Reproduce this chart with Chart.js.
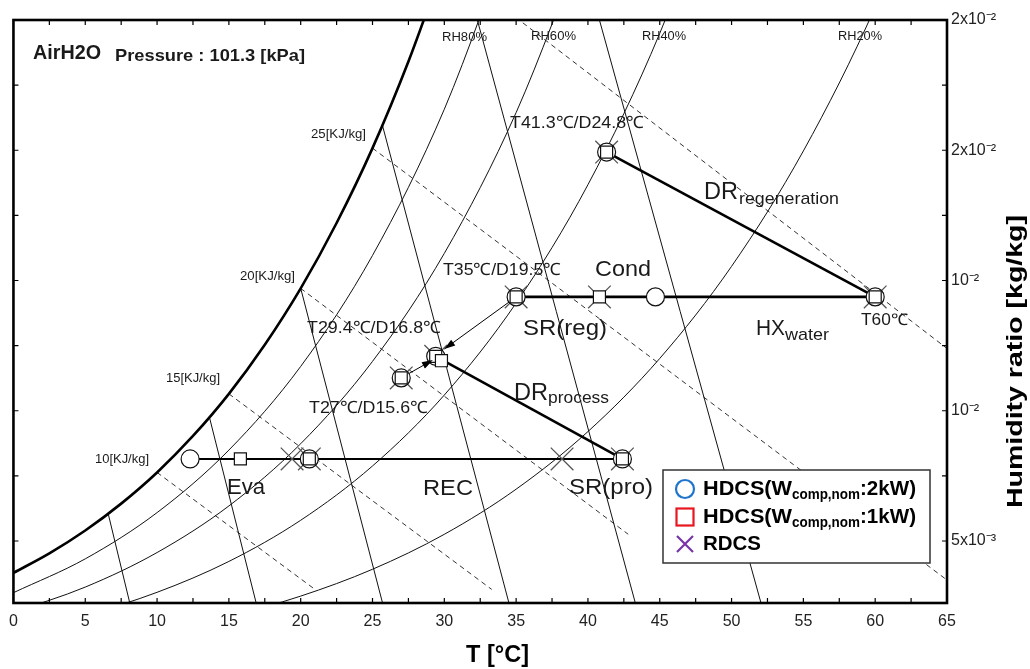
<!DOCTYPE html>
<html>
<head>
<meta charset="utf-8">
<script src="https://cdn.jsdelivr.net/npm/chart.js@4.4.0/dist/chart.umd.min.js"></script>
<style>
  html, body { margin: 0; padding: 0; background: #fff; }
</style>
</head>
<body>
<canvas id="psy" width="1030" height="669"></canvas>
<script>
// humidity ratio range on the right axis [kg/kg]
const wMin = 0.00262;
const wMax = 0.025;

// saturation curve
const satT = [0, 2.5, 5, 7.5, 10, 12.5, 15, 17.5, 20, 22.5, 25, 27.5, 30];
const satW = [0.003775, 0.004525, 0.005403, 0.006435, 0.007631, 0.009032, 0.010649,
              0.012532, 0.014696, 0.017207, 0.020081, 0.023405, 0.027205];

// relative humidity curves
const rh80T = [0, 5, 10, 15, 20, 25, 30, 35];
const rh80W = [0.003016, 0.004315, 0.006090, 0.008490, 0.011702, 0.015962, 0.021575, 0.028929];
const rh60T = [0, 5, 10, 15, 20, 25, 30, 35, 40];
const rh60W = [0.002260, 0.003231, 0.004557, 0.006346, 0.008735, 0.011895, 0.016042, 0.021447, 0.028444];
const rh40T = [0, 5, 10, 15, 20, 25, 30, 35, 40, 45, 50];
const rh40W = [0.001505, 0.002150, 0.003030, 0.004216, 0.005796, 0.007880, 0.010603,
               0.014136, 0.018678, 0.024488, 0.031885];
const rh20T = [10, 15, 20, 25, 30, 35, 40, 45, 50, 55, 60, 65];
const rh20W = [0.001511, 0.002101, 0.002885, 0.003915, 0.005257, 0.006989, 0.009201,
               0.012008, 0.015544, 0.019974, 0.025492, 0.032328];

// specific volume lines (upper end, lower end)
const volT1 = [6.6, 13.65, 20.0, 25.7, 32.3, 40.8];
const volW1 = [0.00604, 0.00974, 0.0147, 0.02094, 0.025, 0.025];
const volT2 = [8.1, 16.9, 25.7, 34.5, 43.3, 52.05];
const volW2 = [0.00262, 0.00262, 0.00262, 0.00262, 0.00262, 0.00262];

// dashed lines labelled [KJ/kg] (start on saturation, end)
const wbT1 = [10, 15, 20, 25, 30];
const wbW1 = [0.007631, 0.010649, 0.014696, 0.020081, 0.027205];
const wbT2 = [21, 33.3, 42.8, 65, 65];
const wbW2 = [0.003139, 0.003141, 0.005260, 0.003502, 0.012391];

// state points
const wEva = 0.00815;
const hdcs2T = [12.3, 20.6, 42.4, 27, 29.4, 35, 41.3, 44.7, 60];
const hdcs2W = [wEva, wEva, wEva, 0.01126, 0.01209, 0.01437, 0.01993, 0.01437, 0.01437];
const hdcs1T = [15.8, 20.6, 42.4, 27, 29.4, 29.8, 35, 41.3, 40.8, 60];
const hdcs1W = [wEva, wEva, wEva, 0.01126, 0.01209, 0.01192, 0.01437, 0.01993, 0.01437, 0.01437];
const rdcsT = [19.4, 20.6, 38.2, 42.4, 27, 29.4, 35, 41.3, 40.8, 60];
const rdcsW = [wEva, wEva, wEva, wEva, 0.01126, 0.01209, 0.01437, 0.01993, 0.01437, 0.01437];

// process lines
const evaT = [12.3, 42.4];
const evaW = [wEva, wEva];
const drProT = [29.4, 42.4];
const drProW = [0.01209, wEva];
const srRegT = [35, 60];
const srRegW = [0.01437, 0.01437];
const drRegT = [41.3, 60];
const drRegW = [0.01993, 0.01437];
const arrowAT = [27, 29.2];
const arrowAW = [0.01126, 0.01195];
const arrowBT = [35, 30.0];
const arrowBW = [0.01437, 0.01237];

// tick labels
const xTickVals = [0, 5, 10, 15, 20, 25, 30, 35, 40, 45, 50, 55, 60, 65];
const yTickVals = [0.005, 0.01, 0.015, 0.02, 0.025];
const yTickText = ['5x10\u207B\u00B3', '10\u207B\u00B2', '10\u207B\u00B2', '2x10\u207B\u00B2', '2x10\u207B\u00B2'];

const FONT = '"Liberation Sans", Arial, sans-serif';

function pts(ts, ws) {
  return ts.map((t, i) => ({ x: t, y: ws[i] }));
}

function curve(ts, ws, extra) {
  return Object.assign({
    data: pts(ts, ws), showLine: true, pointRadius: 0, borderColor: '#111',
    borderWidth: 1, fill: false, order: 4
  }, extra);
}

const datasets = [];
// markers (lower order = drawn on top)
datasets.push({ label: 'HDCS 1kW', data: pts(hdcs1T, hdcs1W), pointStyle: 'rect', pointRadius: 8.5,
  borderColor: '#111', backgroundColor: '#fff', borderWidth: 1.2, order: 0 });
datasets.push({ label: 'HDCS 2kW', data: pts(hdcs2T, hdcs2W), pointStyle: 'circle', pointRadius: 9,
  borderColor: '#111', backgroundColor: '#fff', borderWidth: 1.2, order: 1 });
datasets.push({ label: 'RDCS', data: pts(rdcsT, rdcsW), pointStyle: 'crossRot', pointRadius: 16,
  borderColor: '#555', borderWidth: 1.3, order: 2 });

// process lines
datasets.push(curve(evaT, evaW, { borderWidth: 2, borderColor: '#000', order: 3 }));
datasets.push(curve(drProT, drProW, { borderWidth: 2.6, borderColor: '#000', order: 3 }));
datasets.push(curve(srRegT, srRegW, { borderWidth: 2.6, borderColor: '#000', order: 3 }));
datasets.push(curve(drRegT, drRegW, { borderWidth: 2.6, borderColor: '#000', order: 3 }));
datasets.push(curve(arrowAT, arrowAW, { borderWidth: 1, borderColor: '#000', order: 3, arrow: true }));
datasets.push(curve(arrowBT, arrowBW, { borderWidth: 1, borderColor: '#000', order: 3, arrow: true }));

// chart background
datasets.push(curve(satT, satW, { borderWidth: 2.6, borderColor: '#000', cubicInterpolationMode: 'monotone' }));
datasets.push(curve(rh80T, rh80W, { cubicInterpolationMode: 'monotone' }));
datasets.push(curve(rh60T, rh60W, { cubicInterpolationMode: 'monotone' }));
datasets.push(curve(rh40T, rh40W, { cubicInterpolationMode: 'monotone' }));
datasets.push(curve(rh20T, rh20W, { cubicInterpolationMode: 'monotone' }));
for (let i = 0; i < volT1.length; i++) {
  datasets.push(curve([volT1[i], volT2[i]], [volW1[i], volW2[i]]));
}
for (let i = 0; i < wbT1.length; i++) {
  datasets.push(curve([wbT1[i], wbT2[i]], [wbW1[i], wbW2[i]], { borderDash: [5, 4], borderColor: '#333' }));
}

// text on the chart: text, x, y, size, bold, width
const notes = [
  ['AirH2O', 33, 53, 20, true, 68],
  ['Pressure : 101.3 [kPa]', 115, 56, 17, true, 190],
  ['RH80%', 442, 38, 12, false, 45],
  ['RH60%', 531, 37, 12, false, 45],
  ['RH40%', 642, 37, 12, false, 44],
  ['RH20%', 838, 37, 12, false, 44],
  ['25[KJ/kg]', 311, 135, 12, false, 55],
  ['20[KJ/kg]', 240, 277, 12, false, 55],
  ['15[KJ/kg]', 166, 379, 12, false, 54],
  ['10[KJ/kg]', 95, 460, 12, false, 54],
  ['T41.3\u2103/D24.8\u2103', 510, 123, 17, false, 134],
  ['DR', 704, 192, 24, false, 34],
  ['regeneration', 739, 199, 17, false, 100],
  ['T35\u2103/D19.5\u2103', 443, 270, 17, false, 118],
  ['Cond', 595, 270, 22, false, 56],
  ['T29.4\u2103/D16.8\u2103', 307, 328, 17, false, 134],
  ['SR(reg)', 523, 329, 22, false, 84],
  ['HX', 756, 329, 22, false, 29],
  ['water', 785, 335, 17, false, 44],
  ['T60\u2103', 861, 321, 16, false, 47],
  ['DR', 514, 393, 24, false, 34],
  ['process', 548, 398, 17, false, 61],
  ['T27\u2103/D15.6\u2103', 309, 408, 17, false, 119],
  ['Eva', 227, 488, 22, false, 38],
  ['REC', 423, 489, 22, false, 50],
  ['SR(pro)', 569, 488, 22, false, 84]
];

function drawText(ctx, text, x, y, size, bold, width, color) {
  ctx.save();
  ctx.font = (bold ? 'bold ' : '') + size + 'px ' + FONT;
  ctx.fillStyle = color || '#1a1a1a';
  ctx.textAlign = 'left';
  ctx.textBaseline = 'middle';
  const w = ctx.measureText(text).width;
  ctx.translate(x, y);
  if (width) ctx.scale(width / w, 1);
  ctx.fillText(text, 0, 0);
  ctx.restore();
}

function yLabel(v) {
  const i = yTickVals.findIndex(t => Math.abs(t - v) < 1e-7);
  return i >= 0 ? yTickText[i] : '';
}

const decor = {
  id: 'decor',
  afterDraw(chart) {
    const ctx = chart.ctx;
    const ca = chart.chartArea;
    const xs = chart.scales.x, ys = chart.scales.y;

    // arrow heads
    chart.data.datasets.forEach((ds, i) => {
      if (!ds.arrow) return;
      const p = chart.getDatasetMeta(i).data;
      const a = p[p.length - 2], b = p[p.length - 1];
      const ang = Math.atan2(b.y - a.y, b.x - a.x);
      const c = Math.cos(ang), s = Math.sin(ang);
      ctx.save();
      ctx.fillStyle = '#000';
      ctx.beginPath();
      ctx.moveTo(b.x, b.y);
      ctx.lineTo(b.x - 11 * c + 3.5 * s, b.y - 11 * s - 3.5 * c);
      ctx.lineTo(b.x - 11 * c - 3.5 * s, b.y - 11 * s + 3.5 * c);
      ctx.closePath();
      ctx.fill();
      ctx.restore();
    });

    notes.forEach(n => drawText(ctx, n[0], n[1], n[2], n[3], n[4], n[5]));

    // frame and inward ticks
    ctx.save();
    ctx.strokeStyle = '#000';
    ctx.lineWidth = 1.2;
    ctx.beginPath();
    xs.ticks.forEach(t => {
      const px = xs.getPixelForValue(t.value);
      ctx.moveTo(px, ca.bottom); ctx.lineTo(px, ca.bottom - 5);
      ctx.moveTo(px, ca.top); ctx.lineTo(px, ca.top + 5);
    });
    ys.ticks.forEach(t => {
      const py = ys.getPixelForValue(t.value);
      ctx.moveTo(ca.left, py); ctx.lineTo(ca.left + 5, py);
      ctx.moveTo(ca.right, py); ctx.lineTo(ca.right - 5, py);
    });
    ctx.stroke();
    ctx.lineWidth = 2.6;
    ctx.strokeRect(ca.left, ca.top, ca.right - ca.left, ca.bottom - ca.top);
    ctx.restore();

    // legend box
    ctx.save();
    ctx.fillStyle = '#fff';
    ctx.fillRect(663, 470, 267, 93);
    ctx.strokeStyle = '#333';
    ctx.lineWidth = 1.5;
    ctx.strokeRect(663, 470, 267, 93);
    ctx.lineWidth = 2.2;
    ctx.strokeStyle = '#1f74cc';
    ctx.beginPath(); ctx.arc(685, 489, 9, 0, 2 * Math.PI); ctx.stroke();
    ctx.strokeStyle = '#e8161e';
    ctx.strokeRect(676.5, 508.5, 17, 17);
    ctx.strokeStyle = '#7535a8';
    ctx.beginPath();
    ctx.moveTo(677, 536); ctx.lineTo(693, 552);
    ctx.moveTo(693, 536); ctx.lineTo(677, 552);
    ctx.stroke();
    ctx.restore();
    drawText(ctx, 'HDCS(W', 703, 489, 20, true, 89, '#000');
    drawText(ctx, 'comp,nom', 792, 495, 14, true, 68, '#000');
    drawText(ctx, ':2kW)', 860, 489, 20, true, 56, '#000');
    drawText(ctx, 'HDCS(W', 703, 517, 20, true, 89, '#000');
    drawText(ctx, 'comp,nom', 792, 523, 14, true, 68, '#000');
    drawText(ctx, ':1kW)', 860, 517, 20, true, 56, '#000');
    drawText(ctx, 'RDCS', 703, 544, 20, true, 58, '#000');

    // axis titles
    drawText(ctx, 'T [\u00B0C]', 466, 655, 24, true, 63, '#000');
    ctx.save();
    ctx.translate(1016, 508);
    ctx.rotate(-Math.PI / 2);
    drawText(ctx, 'Humidity ratio [kg/kg]', 0, 0, 22, true, 293, '#000');
    ctx.restore();
  }
};

new Chart(document.getElementById('psy'), {
  type: 'scatter',
  data: { datasets: datasets },
  options: {
    responsive: false,
    devicePixelRatio: 1,
    animation: false,
    events: [],
    layout: { autoPadding: false, padding: { left: 11, top: 20, right: 0, bottom: 0 } },
    elements: { line: { capBezierPoints: false, tension: 0 } },
    plugins: { legend: { display: false }, tooltip: { enabled: false } },
    scales: {
      x: {
        type: 'linear', position: 'bottom', min: 0, max: 65,
        grid: { display: false, drawTicks: false },
        border: { display: false },
        ticks: {
          stepSize: 2.5, autoSkip: false, maxRotation: 0, padding: 9, color: '#222',
          font: { family: FONT, size: 16 },
          callback: v => (xTickVals.includes(v) ? String(v) : '')
        },
        afterFit: s => { s.height = 66; }
      },
      y: {
        type: 'linear', position: 'right', min: wMin, max: wMax,
        grid: { display: false, drawTicks: false },
        border: { display: false },
        ticks: {
          stepSize: 0.0025, includeBounds: false, autoSkip: false, padding: 4, color: '#222',
          font: { family: FONT, size: 16 },
          callback: yLabel
        },
        afterFit: s => { s.width = 83; }
      }
    }
  },
  plugins: [decor]
});
</script>
</body>
</html>
